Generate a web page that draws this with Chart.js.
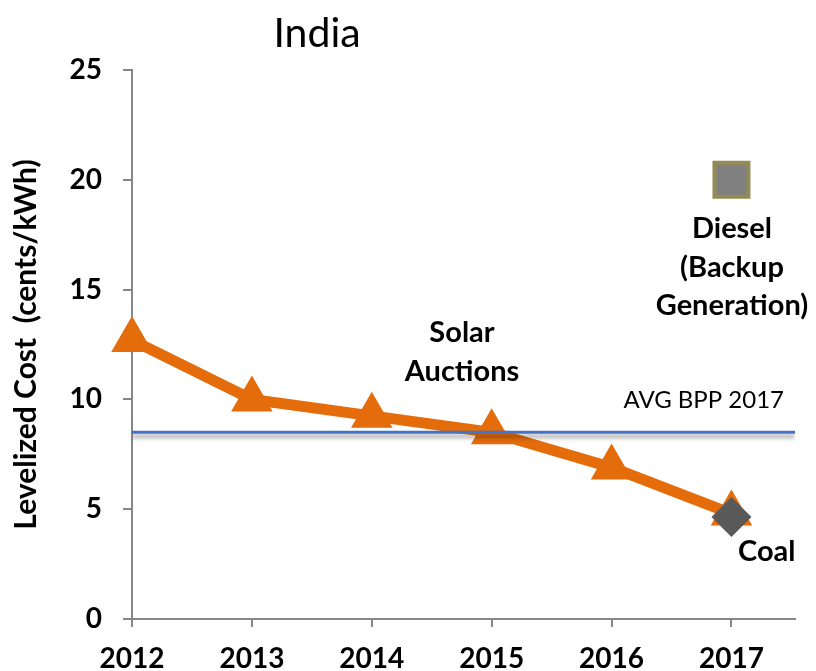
<!DOCTYPE html>
<html>
<head>
<meta charset="utf-8">
<script src="https://cdn.jsdelivr.net/npm/chart.js@4.4.1/dist/chart.umd.min.js"></script>
<style>
  html,body{margin:0;padding:0;background:#fff;overflow:hidden;}
</style>
</head>
<body>
<canvas id="c" width="816" height="671"></canvas>
<script>
// dati
const years = [2012, 2013, 2014, 2015, 2016, 2017];
const solarCost = [12.7, 10.0, 9.25, 8.5, 6.9, 4.8];
const avgBpp = 8.5;
const dieselCost = 20;
const coalCost = 4.65;
const yTicks = [0, 5, 10, 15, 20, 25];
const X_MAX = 2017.53;

const ORANGE = "#E46C0A";
const AXIS = "#878787";
const FONT = "Lato, 'Open Sans', sans-serif";

// ombra sotto la linea BPP
const shadowPlugin = {
  id: "shadow",
  beforeDatasetDraw(chart, args){
    if(args.index !== 1) return;
    const ctx = chart.ctx;
    ctx.save();
    ctx.shadowColor = "rgba(0,0,0,0.4)";
    ctx.shadowOffsetY = 4;
    ctx.shadowBlur = 4;
  },
  afterDatasetDraw(chart, args){
    if(args.index !== 1) return;
    chart.ctx.restore();
  }
};

// testi: titolo e etichette
const textPlugin = {
  id: "texts",
  afterDraw(chart){
    const ctx = chart.ctx;
    ctx.save();
    ctx.fillStyle = "#000";
    ctx.textBaseline = "middle";

    ctx.font = "400 41px " + FONT;
    ctx.textAlign = "center";
    ctx.fillText("India", 317, 34);

    ctx.font = "700 29px " + FONT;
    ctx.fillText("Solar", 462, 333);
    ctx.fillText("Auctions", 462, 372);

    ctx.fillText("Diesel", 732, 229);
    ctx.fillText("(Backup", 732, 268);
    ctx.fillText("Generation)", 732, 306);

    ctx.textAlign = "left";
    ctx.fillText("Coal", 738, 552);

    ctx.font = "400 24px " + FONT;
    ctx.textAlign = "right";
    ctx.fillText("AVG BPP 2017", 784, 400);
    ctx.restore();
  }
};

new Chart(document.getElementById("c"), {
  type: "line",
  data: {
    datasets: [
      {
        data: [{x: 2017, y: coalCost}],
        showLine: false,
        clip: false,
        pointStyle: "rectRot",
        pointRadius: 20,
        backgroundColor: "#595959",
        borderColor: "#595959",
        borderWidth: 0,
        order: 0
      },
      {
        data: [{x: years[0], y: avgBpp}, {x: X_MAX, y: avgBpp}],
        borderColor: "#4472C4",
        borderWidth: 3,
        pointRadius: 0,
        order: 1
      },
      {
        data: years.map((y, i) => ({x: y, y: solarCost[i]})),
        clip: false,
        borderColor: ORANGE,
        backgroundColor: ORANGE,
        borderWidth: 11,
        pointStyle: "triangle",
        pointRadius: 24,
        pointBorderWidth: 0,
        tension: 0,
        order: 2
      },
      {
        data: [{x: 2017, y: dieselCost}],
        showLine: false,
        clip: false,
        pointStyle: "rect",
        pointRadius: 24,
        backgroundColor: "#808080",
        borderColor: "#948A54",
        borderWidth: 4,
        order: 3
      }
    ]
  },
  options: {
    responsive: false,
    animation: false,
    devicePixelRatio: 1,
    layout: {autoPadding: false, padding: {top: 70, right: 21, left: 0, bottom: 0}},
    plugins: {legend: {display: false}, tooltip: {enabled: false}},
    scales: {
      x: {
        type: "linear",
        min: years[0],
        max: X_MAX,
        afterBuildTicks: s => { s.ticks = years.map(v => ({value: v})); },
        afterFit: s => { s.height = 52; s.paddingLeft = 0; s.paddingRight = 0; },
        grid: {drawOnChartArea: false, drawTicks: true, tickLength: 8, color: AXIS, lineWidth: 2},
        border: {color: AXIS, width: 2},
        ticks: {
          color: "#000",
          padding: 15,
          maxRotation: 0,
          font: {family: FONT, size: 28, weight: "700"},
          callback: v => String(v)
        }
      },
      y: {
        min: 0,
        max: 25,
        afterBuildTicks: s => { s.ticks = yTicks.map(v => ({value: v})); },
        afterFit: s => { s.width = 132; },
        grid: {drawOnChartArea: false, drawTicks: true, tickLength: 9, color: AXIS, lineWidth: 2},
        border: {color: AXIS, width: 2},
        ticks: {
          color: "#000",
          padding: 21,
          font: {family: FONT, size: 28, weight: "700"}
        },
        title: {
          display: true,
          text: "Levelized Cost  (cents/kWh)",
          color: "#000",
          padding: {top: 8, bottom: 0},
          font: {family: FONT, size: 30, weight: "700"}
        }
      }
    }
  },
  plugins: [shadowPlugin, textPlugin]
});
</script>
</body>
</html>
